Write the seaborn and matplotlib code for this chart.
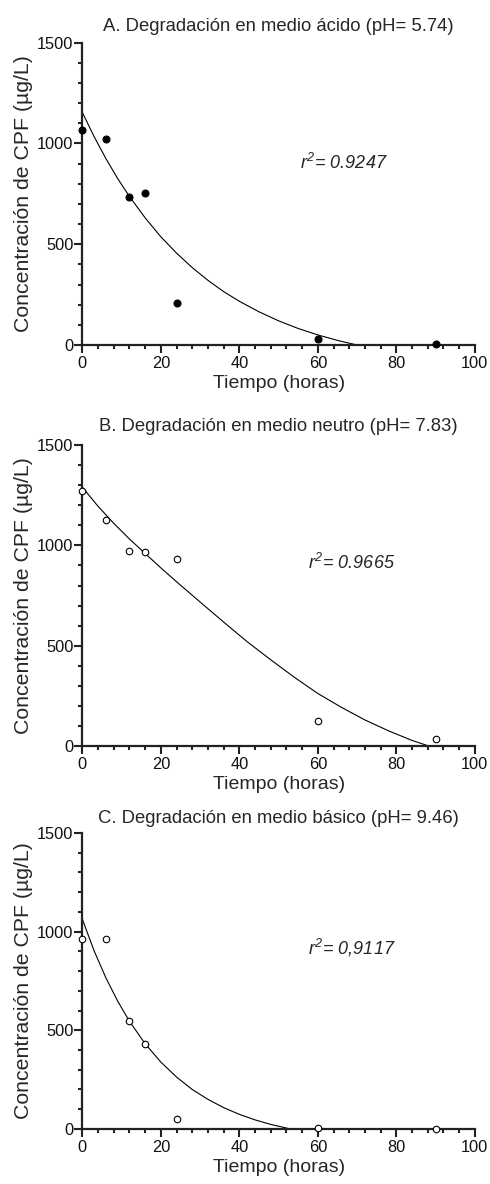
import matplotlib
matplotlib.use("Agg")
import pandas as pd
import matplotlib.pyplot as plt
import seaborn as sns
from matplotlib.ticker import MultipleLocator

# sampling times (horas)
tiempo = [0, 6, 12, 16, 24, 60, 90]

conc_acido = [1067, 1020, 733, 756, 208, 28, 3]
conc_neutro = [1271, 1126, 970, 967, 930, 126, 33]
conc_basico = [962, 964, 546, 431, 51, 3, 1]

curva_x_acido = [0, 3, 6, 9, 12, 16, 20, 24, 28, 32, 36, 40, 45, 50, 55, 60, 65, 70]
curva_y_acido = [1154, 1034, 925, 826, 737, 631, 537, 456, 384, 321, 265, 217, 165, 120, 82, 50, 23, 0]

curva_x_neutro = [0, 4, 8, 12, 16, 20, 24, 30, 36, 42, 48, 54, 60, 66, 72, 78, 84, 88.3]
curva_y_neutro = [1290, 1195, 1110, 1032, 960, 888, 819, 718, 618, 520, 430, 343, 262, 193, 130, 76, 28, 0]

curva_x_basico = [0, 3, 6, 9, 12, 16, 20, 24, 28, 32, 36, 40, 44, 48, 53]
curva_y_basico = [1063, 903, 766, 648, 546, 432, 339, 263, 200, 150, 108, 74, 46, 23, 0]

titulos = ["A. Degradación en medio ácido (pH= 5.74)",
           "B. Degradación en medio neutro (pH= 7.83)",
           "C. Degradación en medio básico (pH= 9.46)"]
r2_textos = [r"$r^2$= 0.9247", r"$r^2$= 0.9665", r"$r^2$= 0,9117"]
r2_pos = [(55.4, 904), (57.4, 913), (57.4, 916)]

sns.set_style("ticks")
plt.rcParams["font.family"] = ["Liberation Sans", "DejaVu Sans"]
plt.rcParams["mathtext.fontset"] = "custom"
plt.rcParams["mathtext.it"] = "Liberation Sans:italic"
plt.rcParams["mathtext.rm"] = "Liberation Sans:italic"

paneles = [
    (conc_acido, curva_x_acido, curva_y_acido, "black"),
    (conc_neutro, curva_x_neutro, curva_y_neutro, "white"),
    (conc_basico, curva_x_basico, curva_y_basico, "white"),
]
posiciones = [
    [0.168, 0.7086, 0.801, 0.2554],
    [0.168, 0.3699, 0.801, 0.2542],
    [0.168, 0.0465, 0.801, 0.2500],
]
pad_titulo = [8.5, 10, 7.5]

fig = plt.figure(figsize=(4.9, 11.84), dpi=100)

for i, (conc, cx, cy, relleno) in enumerate(paneles):
    ax = fig.add_axes(posiciones[i])
    df_puntos = pd.DataFrame({"Tiempo": tiempo, "Conc": conc})
    df_curva = pd.DataFrame({"Tiempo": cx, "Conc": cy})

    sns.lineplot(data=df_curva, x="Tiempo", y="Conc", ax=ax, color="black",
                 linewidth=0.8, sort=False)
    sns.scatterplot(data=df_puntos, x="Tiempo", y="Conc", ax=ax,
                    color=relleno, edgecolor="black",
                    s=25 if relleno == "black" else 22,
                    linewidth=0.8, clip_on=False, zorder=5)

    ax.set_xlim(0, 100)
    ax.set_ylim(0, 1500)
    ax.set_xticks([0, 20, 40, 60, 80, 100])
    ax.set_yticks([0, 500, 1000, 1500])
    ax.xaxis.set_minor_locator(MultipleLocator(4))
    ax.yaxis.set_minor_locator(MultipleLocator(100))
    ax.tick_params(which="major", length=5.5, width=1.5, labelsize=11.8,
                   color="#222222", labelcolor="#111111")
    ax.tick_params(axis="x", which="major", pad=2.5)
    ax.tick_params(axis="y", which="major", pad=0.8)
    ax.tick_params(which="minor", length=2.8, width=1.5, color="#222222")
    for lado in ["left", "bottom"]:
        ax.spines[lado].set_linewidth(1.6)
        ax.spines[lado].set_color("#222222")
    sns.despine(ax=ax)

    ax.set_title(titulos[i], fontsize=13.3, pad=pad_titulo[i])
    ax.set_xlabel("Tiempo (horas)", fontsize=14, labelpad=3)
    ax.set_ylabel("Concentración de CPF (µg/L)", fontsize=15.3, labelpad=3)
    ax.text(r2_pos[i][0], r2_pos[i][1], r2_textos[i], fontsize=13,
            style="italic", ha="left", va="center")

fig.savefig("out.png", dpi=100)
